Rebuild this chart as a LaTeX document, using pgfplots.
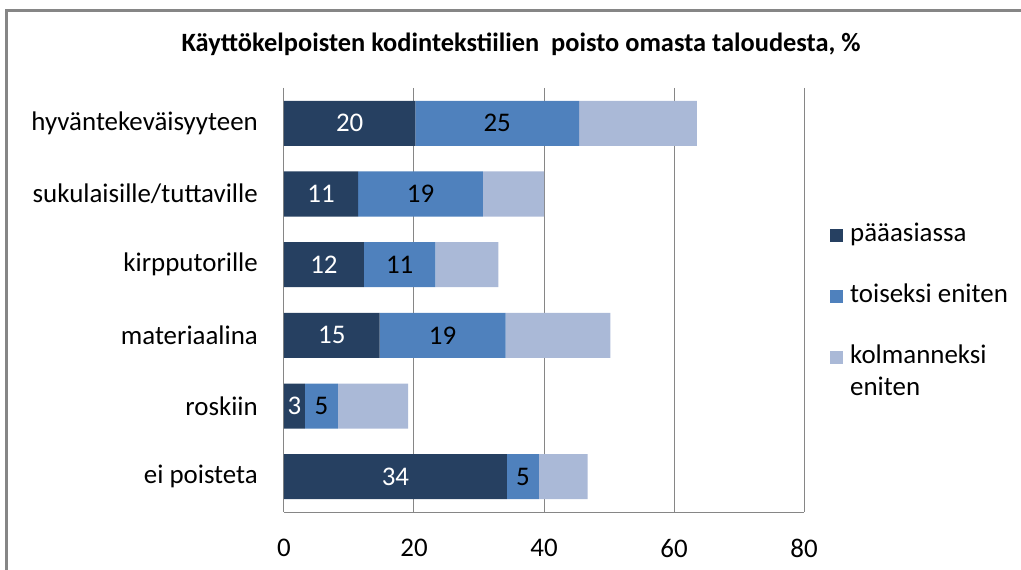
\documentclass[border=0pt]{standalone}
\usepackage{fontspec}
\setmainfont{Carlito}
\usepackage{pgfplots}
\pgfplotsset{compat=1.18}
\definecolor{sarja1}{RGB}{38,64,97}
\definecolor{sarja2}{RGB}{79,129,189}
\definecolor{sarja3}{RGB}{170,185,215}
\definecolor{kehys}{RGB}{134,134,134}
\newcommand{\isot}{\fontsize{27}{32}\selectfont}

\begin{document}
\begin{tikzpicture}
\begin{axis}[
  scale only axis, width=520bp, height=424bp,
  xbar stacked, bar width=45bp,
  xmin=0, xmax=80, xtick={0,20,...,80},
  ymin=-0.5, ymax=5.5, y dir=reverse,
  ytick={0,...,5},
  yticklabels={hyväntekeväisyyteen, sukulaisille/tuttaville, kirpputorille,
               materiaalina, roskiin\hspace{6bp}, ei poisteta},
  major tick length=0pt,
  axis x line*=bottom, axis y line*=left,
  axis line style={kehys, line width=1bp, -},
  xmajorgrids, grid style={kehys, line width=1bp},
  tick label style={font=\isot, inner sep=0pt},
  yticklabel style={xshift=-26bp},
  xticklabel style={yshift=-27bp},
  /pgf/number format/assume math mode=true,
  legend style={at={(1.05,0.69)}, anchor=north west, draw=none, fill=none,
    inner sep=0pt, font=\isot, row sep=37bp,
    nodes={inner sep=0pt, anchor=base west},
    /tikz/every odd column/.append style={column sep=7bp}},
  legend image code/.code={\fill[#1] (0bp,0bp) rectangle (13bp,13bp);},
]
\addplot+[fill=sarja1, draw=none, nodes near coords, point meta=explicit symbolic,
  every node near coord/.append style={font=\isot, text=white}]
  coordinates {(20.2,0) [20] (11.4,1) [11] (12.3,2) [12] (14.7,3) [15] (3.2,4) [3] (34.3,5) [34]};
\addplot+[fill=sarja2, draw=none, nodes near coords, point meta=explicit symbolic,
  every node near coord/.append style={font=\isot, text=black}]
  coordinates {(25.2,0) [25] (19.2,1) [19] (11.0,2) [11] (19.4,3) [19] (5.1,4) [5] (4.9,5) [5]};
\addplot+[fill=sarja3, draw=none]
  coordinates {(18.1,0) (9.4,1) (9.7,2) (16.1,3) (10.8,4) (7.5,5)};
\legend{\strut pääasiassa, \strut toiseksi eniten,
  {\begin{tabular}[t]{@{}l@{}}\strut kolmanneksi\\\strut eniten\end{tabular}}}
\coordinate (sw) at (axis cs:0,5.5);
\end{axis}
\pgfresetboundingbox
\begin{scope}[shift={(sw)}, x=1bp, y=1bp]
  \path[use as bounding box] (-284,-58) rectangle (737,512);
  % chart frame, cut off at right and bottom
  \draw[kehys, line width=3bp] (-277,-90) -- (-277,501) -- (800,501);
  \node[font=\fontsize{26.5}{30}\selectfont\bfseries] at (237,468)
    {Käyttökelpoisten kodintekstiilien\ \ poisto omasta taloudesta, \%};
\end{scope}
\end{tikzpicture}
\end{document}
